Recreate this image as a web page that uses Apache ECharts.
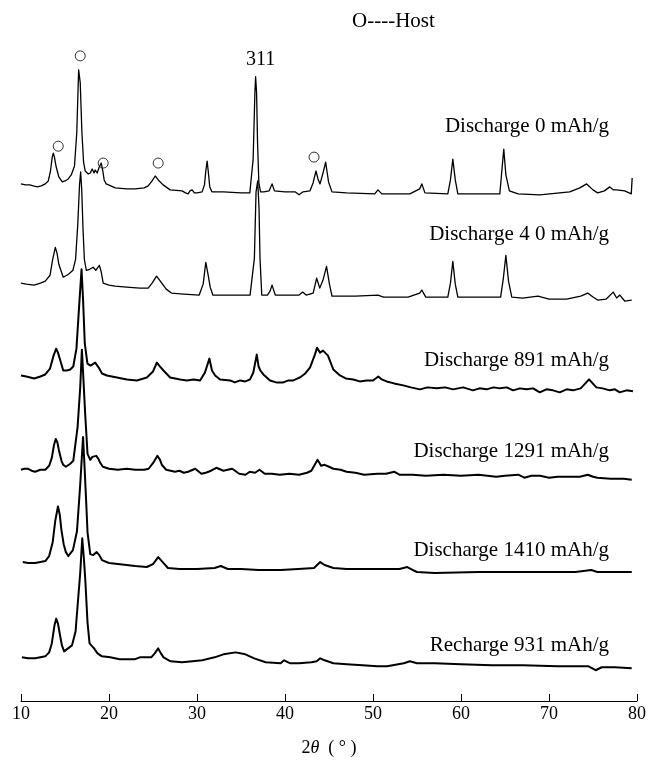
<!DOCTYPE html>
<html>
<head>
<meta charset="utf-8">
<script src="https://cdn.jsdelivr.net/npm/echarts@6/dist/echarts.min.js"></script>
<style>
  html, body { margin: 0; padding: 0; background: #fff; }
  #chart { width: 651px; height: 762px; }
</style>
</head>
<body>
<div id="chart"></div>
<script>
// XRD patterns recorded at several discharge / recharge states.
// Each pattern is a list of [2theta (deg), intensity (a.u.)] pairs; the
// patterns are stacked with a vertical offset so they do not overlap.

const sampleNames = [
  'Discharge 0 mAh/g',
  'Discharge 4 0 mAh/g',
  'Discharge 891 mAh/g',
  'Discharge 1291 mAh/g',
  'Discharge 1410 mAh/g',
  'Recharge 931 mAh/g'
];

// vertical offset applied to each pattern (a.u.)
const stackOffsets = [510, 405, 315, 228, 130, 38];

const xrdDischarge0 = [
  [10.0, 11], [10.5, 10], [11.0, 10], [11.4, 9], [11.85, 8], [12.3, 9], [12.76, 11], [13.1, 14],
  [13.35, 24], [13.55, 38], [13.67, 42], [13.8, 38], [14.0, 28], [14.3, 18], [14.69, 13],
  [15.0, 14], [15.37, 16], [15.71, 20], [16.08, 29], [16.34, 63], [16.55, 126], [16.73, 113],
  [16.92, 63], [17.11, 33], [17.3, 24], [17.64, 21], [17.87, 22], [18.09, 26], [18.3, 22],
  [18.43, 25], [18.66, 22], [18.89, 28], [19.12, 32], [19.3, 24], [19.45, 15], [19.68, 11],
  [20.2, 9], [20.7, 7], [22.0, 6], [22.97, 6], [24.0, 7], [24.45, 9], [24.9, 14], [25.25, 19],
  [25.6, 15], [26.15, 10], [26.95, 5], [28.31, 4], [28.7, 2], [28.99, 1], [29.2, 4], [29.45, 5],
  [29.7, 2], [30.02, 2], [30.58, 3], [30.85, 10], [31.0, 24], [31.15, 34], [31.3, 22],
  [31.45, 8], [31.7, 3], [33.0, 3], [35.0, 2], [36.0, 2], [36.19, 4], [36.38, 36], [36.58, 103],
  [36.66, 119], [36.77, 103], [36.88, 53], [37.03, 12], [37.22, 3], [37.6, 3], [38.2, 4],
  [38.53, 11], [38.8, 4], [39.0, 2], [40.0, 3], [41.14, 3], [41.6, 0], [42.05, 3], [42.84, 4],
  [43.19, 12], [43.52, 24], [43.75, 16], [43.98, 11], [44.32, 22], [44.62, 33], [44.8, 22],
  [44.95, 13], [45.34, 3], [47.0, 2], [50.2, 1], [50.56, 5], [51.0, 1], [54.19, 1], [55.3, 6],
  [55.55, 11], [55.9, 2], [58.5, 1], [58.8, 15], [59.07, 36], [59.35, 15], [59.64, 1],
  [64.41, 1], [64.6, 20], [64.86, 46], [65.1, 20], [65.5, 4], [66.5, 1], [68.95, 0], [72.35, 3],
  [73.5, 7], [74.28, 11], [75.0, 5], [75.53, 2], [76.3, 4], [76.9, 8], [77.3, 5], [77.69, 5],
  [78.6, 4], [79.35, 1], [79.45, 17]
];

const xrdDischarge40 = [
  [10.0, 16], [10.6, 15], [11.5, 14], [12.2, 16], [12.76, 18], [13.3, 24], [13.6, 40], [13.9, 52],
  [14.1, 46], [14.3, 35], [14.8, 22], [15.4, 25], [15.9, 29], [16.2, 40], [16.45, 75],
  [16.65, 115], [16.78, 128], [16.9, 110], [17.05, 70], [17.2, 40], [17.42, 29], [17.8, 30],
  [18.2, 32], [18.5, 29], [18.9, 34], [19.1, 28], [19.34, 16], [20.0, 14], [20.7, 13],
  [22.0, 12], [23.5, 11], [24.45, 11], [24.9, 16], [25.4, 23], [26.0, 16], [26.5, 10],
  [27.1, 6], [28.5, 5], [30.25, 4], [30.7, 15], [31.0, 37], [31.25, 25], [31.5, 12],
  [31.8, 4], [33.5, 4], [36.03, 4], [36.2, 4], [36.52, 41], [36.71, 108], [36.9, 119],
  [37.05, 91], [37.16, 41], [37.36, 4], [38.0, 4], [38.3, 8], [38.53, 14], [38.75, 8],
  [38.9, 4], [40.5, 4], [41.6, 4], [42.0, 7], [42.4, 4], [43.2, 6], [43.6, 21], [43.95, 11],
  [44.35, 20], [44.72, 33], [45.05, 15], [45.34, 3], [48.0, 3], [50.56, 4], [51.2, 2],
  [54.0, 2], [55.3, 6], [55.55, 9], [56.0, 2], [58.5, 2], [58.8, 16], [59.07, 38], [59.35, 15],
  [59.64, 2], [64.5, 2], [64.8, 20], [65.1, 44], [65.4, 18], [65.77, 2], [67.0, 1], [68.75, 3],
  [70.0, 0], [72.0, 0], [73.6, 3], [74.4, 6], [75.0, 2], [75.53, -1], [76.5, 0], [77.3, 7],
  [77.69, 1], [78.05, 4], [78.6, -2], [79.4, -1]
];

const xrdDischarge891 = [
  [10.0, 13], [10.6, 12], [11.5, 10], [12.2, 12], [12.76, 14], [13.3, 20], [13.7, 33],
  [14.0, 40], [14.2, 36], [14.4, 30], [14.8, 18], [15.2, 18], [15.6, 19], [15.94, 22],
  [16.3, 40], [16.55, 75], [16.88, 120], [17.05, 90], [17.25, 45], [17.55, 25], [17.9, 23],
  [18.1, 23], [18.43, 26], [18.9, 20], [19.2, 15], [19.76, 13], [20.9, 11], [22.03, 9],
  [23.17, 8], [24.3, 11], [25.0, 17], [25.44, 26], [25.8, 22], [26.19, 18], [26.95, 11],
  [28.08, 9], [28.84, 8], [29.6, 9], [30.35, 8], [30.9, 16], [31.41, 30], [31.7, 18],
  [32.06, 13], [32.62, 9], [33.76, 8], [34.3, 6], [34.9, 8], [35.5, 7], [36.03, 9],
  [36.4, 16], [36.79, 34], [37.0, 22], [37.2, 18], [37.54, 14], [38.3, 8], [39.0, 6],
  [39.81, 6], [40.4, 8], [40.95, 8], [41.7, 11], [42.3, 15], [42.84, 21], [43.4, 34],
  [43.64, 41], [43.98, 36], [44.32, 38], [44.88, 33], [45.49, 19], [46.25, 13], [46.9, 10],
  [47.76, 9], [48.5, 7], [49.28, 8], [50.0, 8], [50.6, 12], [51.0, 9], [51.55, 7], [52.4, 5],
  [53.44, 3], [54.3, 1], [55.33, -1], [56.2, 1], [57.22, 0], [58.2, 1], [59.1, -1],
  [60.24, 1], [61.37, -2], [62.1, 0], [62.9, -1], [63.7, 1], [64.41, 0], [65.2, 1],
  [65.92, -2], [66.7, 0], [67.44, -1], [68.2, 0], [68.95, -4], [69.7, -1], [70.46, -2],
  [71.22, -4], [72.0, -1], [72.73, -2], [73.6, 0], [74.24, 6], [74.55, 9], [75.38, 1],
  [76.1, 0], [76.9, -2], [77.5, -1], [78.03, -4], [78.8, -2], [79.54, -3]
];

const xrdDischarge1291 = [
  [10.0, 5], [10.4, 6], [10.8, 6], [11.2, 4], [11.6, 3], [12.2, 5], [12.76, 5], [13.2, 9],
  [13.5, 17], [13.75, 30], [13.95, 36], [14.15, 32], [14.3, 25], [14.6, 14], [14.8, 10],
  [15.1, 8], [15.6, 11], [15.94, 14], [16.43, 48], [16.73, 88], [16.92, 126], [17.1, 95],
  [17.3, 60], [17.56, 21], [17.87, 15], [18.1, 18], [18.3, 17], [18.55, 19], [18.8, 16],
  [19.0, 12], [19.3, 8], [20.0, 6], [21.0, 5], [22.0, 6], [23.0, 5], [24.0, 5], [24.5, 6],
  [25.1, 13], [25.5, 19], [25.8, 15], [26.0, 10], [26.5, 5], [27.5, 3], [28.0, 4], [28.5, 2],
  [29.0, 3], [29.8, 6], [30.5, 1], [31.0, 2], [31.6, 4], [32.2, 7], [33.0, 4], [33.5, 5],
  [34.0, 6], [34.8, 1], [35.5, 0], [36.0, 3], [36.6, 2], [37.1, 5], [37.7, 1], [38.5, 1],
  [39.4, 0], [40.5, 1], [41.6, 0], [42.5, 2], [43.0, 4], [43.7, 15], [44.1, 9], [44.5, 10],
  [45.0, 8], [45.5, 6], [46.3, 5], [47.0, 3], [48.0, 2], [49.0, 0], [50.5, 1], [51.5, 1],
  [52.4, 3], [53.0, 0], [54.5, 0], [56.0, -1], [58.0, 0], [60.0, -1], [62.0, 0], [63.0, -1],
  [64.0, -2], [65.0, -1], [66.5, 0], [67.2, -3], [68.0, -1], [69.0, -1], [70.0, -3],
  [71.0, -2], [72.0, -2], [73.5, -2], [74.4, 0], [75.0, -2], [75.5, -3], [77.0, -4],
  [78.5, -4], [79.4, -5]
];

const xrdDischarge1410 = [
  [10.2, 10], [10.8, 9], [11.6, 9], [12.2, 10], [12.76, 11], [13.2, 16], [13.6, 30],
  [13.9, 52], [14.2, 66], [14.4, 58], [14.6, 42], [14.85, 28], [15.1, 20], [15.37, 16],
  [15.9, 22], [16.36, 41], [16.73, 88], [17.05, 136], [17.2, 110], [17.41, 70], [17.56, 40],
  [17.87, 18], [18.2, 17], [18.6, 20], [18.9, 17], [19.2, 12], [20.0, 9], [21.0, 8],
  [22.0, 7], [22.97, 6], [24.3, 5], [25.0, 8], [25.59, 15], [25.9, 12], [26.2, 9], [26.7, 4],
  [28.0, 3], [30.0, 3], [32.0, 4], [32.7, 6], [33.5, 3], [35.0, 3], [37.0, 2], [39.5, 2],
  [41.5, 3], [43.3, 4], [44.0, 10], [44.5, 7], [45.5, 4], [47.0, 3], [50.0, 3], [53.0, 3],
  [53.9, 5], [54.5, 2], [55.0, 0], [57.0, -1], [62.0, 0], [66.0, 0], [70.0, 0], [73.0, 0],
  [74.8, 2], [75.5, 0], [79.4, 0]
];

const xrdRecharge931 = [
  [10.1, 6], [10.8, 5], [11.6, 5], [12.2, 6], [12.76, 7], [13.2, 11], [13.5, 20], [13.8, 38],
  [14.0, 45], [14.2, 40], [14.4, 30], [14.65, 18], [14.9, 12], [15.1, 10], [15.79, 18],
  [16.2, 32], [16.43, 58], [16.73, 91], [16.96, 126], [17.15, 105], [17.3, 85], [17.56, 41],
  [17.79, 20], [18.3, 15], [18.7, 10], [19.2, 7], [20.14, 6], [21.2, 4], [22.9, 4], [23.5, 6],
  [24.8, 6], [25.2, 10], [25.59, 15], [25.9, 10], [26.2, 6], [27.0, 2], [28.3, 1], [29.5, 2],
  [30.6, 3], [32.0, 6], [33.0, 9], [34.4, 11], [35.5, 9], [36.5, 5], [37.8, 1], [39.5, 0],
  [39.9, 3], [40.6, 0], [41.6, 0], [43.0, 1], [43.6, 2], [44.0, 5], [44.5, 3], [45.5, 0],
  [47.0, -1], [48.8, -2], [50.5, -3], [51.6, -3], [53.5, 0], [54.2, 2], [55.0, 0], [57.0, 0],
  [60.0, -1], [63.5, -2], [67.0, -2], [71.0, -3], [74.5, -3], [75.3, -7], [76.0, -4],
  [77.5, -4], [79.4, -5]
];

const patterns = [
  xrdDischarge0, xrdDischarge40, xrdDischarge891,
  xrdDischarge1291, xrdDischarge1410, xrdRecharge931
];

// host-phase reflections marked with open circles on the top pattern: [2theta, height above offset]
const hostMarks = [[16.73, 140], [14.23, 49], [19.34, 32], [25.59, 32], [43.3, 38]];

const xTicks = [10, 20, 30, 40, 50, 60, 70, 80];

const serif = '"Liberation Serif", "Times New Roman", serif';
const lineWidths = [1.3, 1.3, 2, 2, 2, 2];

const chart = echarts.init(document.getElementById('chart'), null, { renderer: 'canvas' });

const series = patterns.map((pts, i) => ({
  name: sampleNames[i],
  type: 'line',
  data: pts.map(p => [p[0], p[1] + stackOffsets[i]]),
  showSymbol: false,
  symbol: 'none',
  smooth: false,
  lineStyle: { color: '#000', width: lineWidths[i], join: 'round' },
  z: 2
}));

series.push({
  name: 'Host',
  type: 'scatter',
  data: hostMarks.map(p => [p[0], p[1] + stackOffsets[0]]),
  symbol: 'circle',
  symbolSize: 10,
  itemStyle: { color: 'rgba(0,0,0,0)', borderColor: '#000', borderWidth: 1 },
  z: 3
});

const labelY = [128, 236, 362, 453, 552, 647];

chart.setOption({
  animation: false,
  backgroundColor: '#fff',
  grid: { left: 21, right: 14, top: 40, bottom: 56, containLabel: false },
  xAxis: {
    type: 'value',
    min: xTicks[0],
    max: xTicks[xTicks.length - 1],
    interval: 10,
    axisLine: { show: true, lineStyle: { color: '#000', width: 1 } },
    axisTick: { show: true, inside: true, length: 7, lineStyle: { color: '#000', width: 1 } },
    axisLabel: { color: '#000', fontFamily: serif, fontSize: 18, margin: 4 },
    splitLine: { show: false },
    name: '{n|2}{i|θ}{n|  ( ° )}',
    nameLocation: 'middle',
    nameGap: 38,
    nameTextStyle: {
      rich: {
        n: { fontFamily: serif, fontSize: 18, color: '#000' },
        i: { fontFamily: serif, fontSize: 18, fontStyle: 'italic', color: '#000' }
      }
    }
  },
  yAxis: {
    type: 'value',
    min: 0,
    max: 666,
    show: false,
    axisLine: { show: false },
    splitLine: { show: false }
  },
  graphic: [
    ...sampleNames.map((t, i) => ({
      type: 'text',
      right: 651 - 609,
      top: labelY[i] - 12,
      style: { text: t, font: '21px ' + serif, fill: '#000' }
    })),
    { type: 'text', left: 352, top: 11, style: { text: 'O----Host', font: '21px ' + serif, fill: '#000' } },
    { type: 'text', left: 246, top: 50, style: { text: '311', font: '20px ' + serif, fill: '#000' } }
  ],
  series: series
});
</script>
</body>
</html>
